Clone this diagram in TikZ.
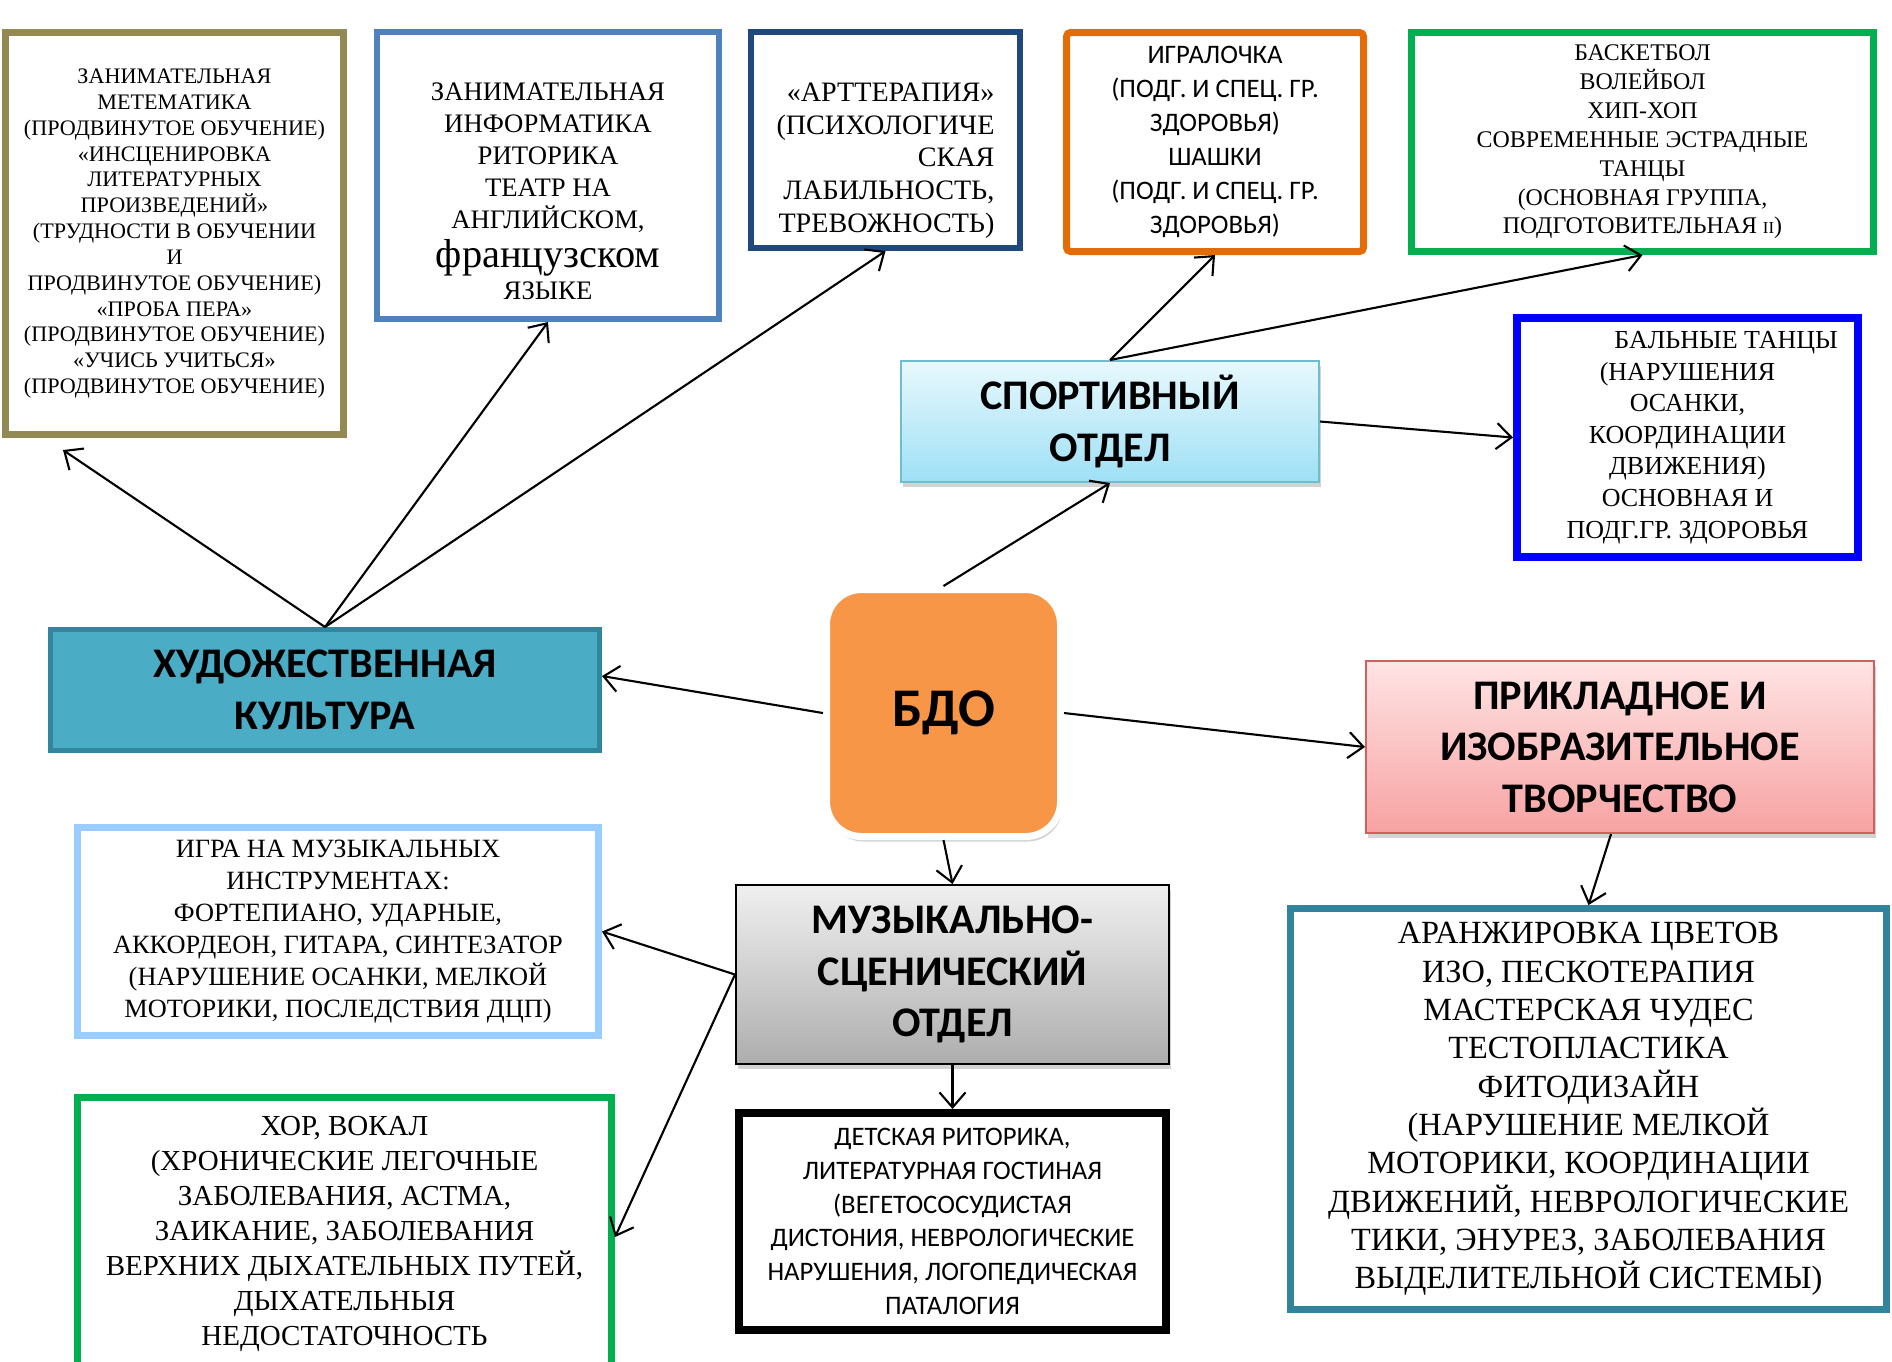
\documentclass[tikz,border=0pt]{standalone}
\usepackage{fontspec}
\setmainfont{Liberation Serif}
\newfontfamily\calib{Carlito}
\usepackage{tikz}
\usetikzlibrary{arrows.meta,shadows}
\definecolor{boxolive}{HTML}{938953}
\definecolor{boxsteel}{HTML}{4F81BD}
\definecolor{boxnavy}{HTML}{1F497D}
\definecolor{boxrust}{HTML}{E36C09}
\definecolor{boxgrass}{HTML}{00B050}
\definecolor{boxblue}{HTML}{0000FF}
\definecolor{boxsky}{HTML}{99CCFF}
\definecolor{boxteal}{HTML}{31849B}
\definecolor{aqua}{HTML}{4BACC6}
\definecolor{aquadark}{HTML}{31859C}
\definecolor{sporttop}{HTML}{E8F8FD}
\definecolor{sportbot}{HTML}{9EE0F5}
\definecolor{crafttop}{HTML}{FFE4E4}
\definecolor{craftbot}{HTML}{F7A2A2}
\definecolor{bdofill}{HTML}{F79646}
\definecolor{pinkline}{HTML}{D0605D}
\newcommand\sz[2]{\fontsize{#1}{#2}\selectfont}

\tikzset{
  framed/.style={draw, fill=white, inner sep=0pt, align=center},
  dept/.style={draw, inner sep=0pt, align=center,
    font=\calib\bfseries\sz{12}{14.7}},
  soft/.style={drop shadow={shadow xshift=0.02cm, shadow yshift=-0.05cm, opacity=0.35}},
  link/.style={->, line width=0.6pt},
}

\begin{document}
\begin{tikzpicture}[>={Straight Barb[length=1.5mm,width=2.6mm]}]
        \useasboundingbox (0,0) rectangle (18.92,-13.61);
        \clip (0,0) rectangle (18.92,-13.61);

        % upper row
        \path
        (1.745,-2.335) node[framed, draw=boxolive, line width=0.07cm,
          minimum width=3.38cm, minimum height=4.02cm, font=\sz{6.3}{7.35}] (mathbox)
          {ЗАНИМАТЕЛЬНАЯ\\МЕТЕМАТИКА\\(ПРОДВИНУТОЕ ОБУЧЕНИЕ)\\«ИНСЦЕНИРОВКА\\ЛИТЕРАТУРНЫХ\\ПРОИЗВЕДЕНИЙ»\\(ТРУДНОСТИ В ОБУЧЕНИИ\\И\\ПРОДВИНУТОЕ ОБУЧЕНИЕ)\\«ПРОБА ПЕРА»\\(ПРОДВИНУТОЕ ОБУЧЕНИЕ)\\«УЧИСЬ УЧИТЬСЯ»\\(ПРОДВИНУТОЕ ОБУЧЕНИЕ)}
        (5.48,-1.755) node[framed, draw=boxsteel, line width=0.06cm,
          minimum width=3.42cm, minimum height=2.87cm, font=\sz{7.6}{9.1}] (infobox)
          {\rule{0pt}{14pt}ЗАНИМАТЕЛЬНАЯ\\ИНФОРМАТИКА\\РИТОРИКА\\ТЕАТР НА\\АНГЛИЙСКОМ,\\[1pt]{\sz{11.5}{13}французском}\\ЯЗЫКЕ}
        (8.855,-1.40) node[framed, draw=boxnavy, line width=0.06cm, align=right,
          minimum width=2.69cm, minimum height=2.16cm, font=\sz{8}{9.3}] (therapy)
          {\rule{0pt}{17pt}«АРТТЕРАПИЯ»\\(ПСИХОЛОГИЧЕ\\СКАЯ\\ЛАБИЛЬНОСТЬ,\\ТРЕВОЖНОСТЬ)}
        (12.15,-1.42) node[framed, draw=boxrust, line width=0.07cm, rounded corners=0.04cm,
          minimum width=2.97cm, minimum height=2.19cm, font=\calib\sz{7.6}{9.7}] (games)
          {ИГРАЛОЧКА\\(ПОДГ. И СПЕЦ. ГР.\\ЗДОРОВЬЯ)\\ШАШКИ\\(ПОДГ. И СПЕЦ. ГР.\\ЗДОРОВЬЯ)}
        (16.425,-1.42) node[framed, draw=boxgrass, line width=0.07cm,
          minimum width=4.62cm, minimum height=2.19cm, font=\sz{6.8}{8.2}] (ball)
          {БАСКЕТБОЛ\\ВОЛЕЙБОЛ\\ХИП-ХОП\\СОВРЕМЕННЫЕ ЭСТРАДНЫЕ\\ТАНЦЫ\\(ОСНОВНАЯ ГРУППА,\\ПОДГОТОВИТЕЛЬНАЯ {\sz{4.8}{6}II})}
        (16.875,-4.375) node[framed, draw=boxblue, line width=0.08cm,
          minimum width=3.41cm, minimum height=2.39cm, font=\sz{7.4}{9.0}] (dance)
          {\hspace*{22pt}БАЛЬНЫЕ ТАНЦЫ\\(НАРУШЕНИЯ\\ОСАНКИ,\\КООРДИНАЦИИ\\ДВИЖЕНИЯ)\\ОСНОВНАЯ И\\ПОДГ.ГР. ЗДОРОВЬЯ}
        ;

        % departments
        \path
        (11.10,-4.215) node[dept, soft, draw=aqua!80, line width=0.02cm,
          top color=sporttop, bottom color=sportbot,
          minimum width=4.18cm, minimum height=1.21cm] (sport)
          {СПОРТИВНЫЙ\\ОТДЕЛ}
        (3.25,-6.90) node[dept, fill=aqua, draw=aquadark, line width=0.05cm,
          minimum width=5.49cm, minimum height=1.21cm] (art)
          {ХУДОЖЕСТВЕННАЯ\\КУЛЬТУРА}
        (9.435,-7.13) node[dept, soft, fill=bdofill, draw=white, line width=0.07cm,
          rounded corners=0.35cm, minimum width=2.34cm, minimum height=2.47cm,
          font=\calib\bfseries\sz{15.5}{18}] (bdo)
          {БДО}
        (16.20,-7.47) node[dept, soft, draw=pinkline, line width=0.02cm,
          top color=crafttop, bottom color=craftbot,
          minimum width=5.08cm, minimum height=1.72cm] (craft)
          {ПРИКЛАДНОЕ И\\ИЗОБРАЗИТЕЛЬНОЕ\\ТВОРЧЕСТВО}
        (9.525,-9.745) node[dept, soft, draw=black, line width=0.02cm,
          top color=black!6, bottom color=black!32,
          minimum width=4.33cm, minimum height=1.79cm] (music)
          {МУЗЫКАЛЬНО-\\СЦЕНИЧЕСКИЙ\\ОТДЕЛ}
        ;

        % lower row
        \path
        (3.38,-9.315) node[framed, draw=boxsky, line width=0.07cm,
          minimum width=5.21cm, minimum height=2.08cm, font=\sz{7.5}{9.1}] (instr)
          {ИГРА НА МУЗЫКАЛЬНЫХ\\ИНСТРУМЕНТАХ:\\ФОРТЕПИАНО, УДАРНЫЕ,\\АККОРДЕОН, ГИТАРА, СИНТЕЗАТОР\\(НАРУШЕНИЕ ОСАНКИ, МЕЛКОЙ\\МОТОРИКИ, ПОСЛЕДСТВИЯ ДЦП)}
        (3.445,-12.34) node[framed, draw=boxgrass, line width=0.07cm,
          minimum width=5.34cm, minimum height=2.73cm, font=\sz{8.25}{10}] (choir)
          {ХОР, ВОКАЛ\\(ХРОНИЧЕСКИЕ ЛЕГОЧНЫЕ\\ЗАБОЛЕВАНИЯ, АСТМА,\\ЗАИКАНИЕ, ЗАБОЛЕВАНИЯ\\ВЕРХНИХ ДЫХАТЕЛЬНЫХ ПУТЕЙ,\\ДЫХАТЕЛЬНЫЯ\\НЕДОСТАТОЧНОСТЬ}
        (9.525,-12.215) node[framed, draw=black, line width=0.08cm,
          minimum width=4.27cm, minimum height=2.17cm, font=\calib\sz{7.6}{9.6}] (rhet)
          {ДЕТСКАЯ РИТОРИКА,\\ЛИТЕРАТУРНАЯ ГОСТИНАЯ\\(ВЕГЕТОСОСУДИСТАЯ\\ДИСТОНИЯ, НЕВРОЛОГИЧЕСКИЕ\\НАРУШЕНИЯ, ЛОГОПЕДИЧЕСКАЯ\\ПАТАЛОГИЯ}
        (15.885,-11.09) node[framed, draw=boxteal, line width=0.07cm,
          minimum width=5.96cm, minimum height=4.01cm, font=\sz{9.2}{10.9}] (flowers)
          {АРАНЖИРОВКА ЦВЕТОВ\\ИЗО, ПЕСКОТЕРАПИЯ\\МАСТЕРСКАЯ ЧУДЕС\\ТЕСТОПЛАСТИКА\\ФИТОДИЗАЙН\\(НАРУШЕНИЕ МЕЛКОЙ\\МОТОРИКИ, КООРДИНАЦИИ\\ДВИЖЕНИЙ, НЕВРОЛОГИЧЕСКИЕ\\ТИКИ, ЭНУРЕЗ, ЗАБОЛЕВАНИЯ\\ВЫДЕЛИТЕЛЬНОЙ СИСТЕМЫ)}
        ;

        \draw[link] (art.north) -- ([xshift=-1.115cm,yshift=-0.12cm]mathbox.south);
        \draw[link] (art.north) -- (infobox.south);
        \draw[link] (art.north) -- (therapy.south);
        \draw[link] (bdo.north) -- (sport.south);
        \draw[link] (sport.north) -- (games.south);
        \draw[link] (sport.north) -- (ball.south);
        \draw[link] (sport.east) -- (dance.west);
        \draw[link] (bdo.west) -- ([yshift=0.14cm]art.east);
        \draw[link] (bdo.east) -- (craft.west);
        \draw[link] (bdo.south) -- (music.north);
        \draw[link] ([xshift=-0.09cm]craft.south) -- (flowers.north);
        \draw[link] (music.west) -- (instr.east);
        \draw[link] (music.west) -- ([yshift=-0.03cm]choir.east);
        \draw[link] (music.south) -- (rhet.north);
      \end{tikzpicture}
\end{document}
